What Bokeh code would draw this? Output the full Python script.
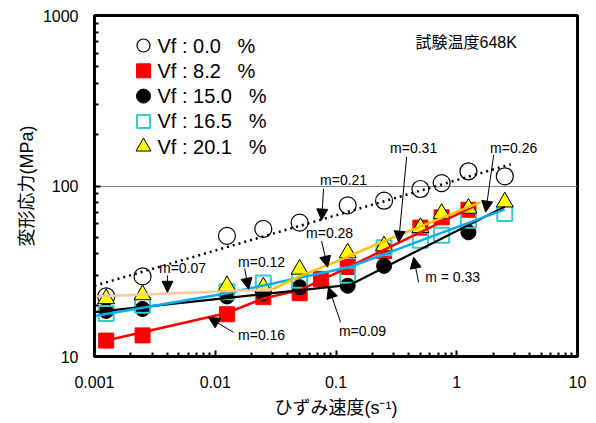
from bokeh.plotting import figure
from bokeh.models import (Arrow, NormalHead, Label, CustomJSTickFormatter, FixedTicker,
                          Range1d, LinearScale)
from bokeh.core.properties import value
from bokeh.embed import file_html
from bokeh.resources import INLINE

FONT = "'Liberation Sans', 'Noto Sans CJK JP', sans-serif"

# ---- measured data (strain rate s^-1, flow stress MPa) ----
rate_vf00 = [0.00125, 0.0025, 0.0125, 0.025, 0.05, 0.125, 0.25, 0.5, 0.75, 1.25, 2.5]
stress_vf00 = [22.5, 29.5, 51, 56, 61, 77, 82, 96, 104, 122, 114]

rate_vf82 = [0.00125, 0.0025, 0.0125, 0.025, 0.05, 0.075, 0.125, 0.25, 0.5, 0.75, 1.25]
stress_vf82 = [12.4, 13.3, 17.7, 22.3, 23.5, 28.5, 33.5, 41.5, 57, 65.5, 72.5]

rate_vf150 = [0.00125, 0.0025, 0.0125, 0.025, 0.05, 0.125, 0.25, 1.25]
stress_vf150 = [18.5, 19.0, 22.5, 23.5, 25.5, 26.0, 34.0, 53.5]

rate_vf165 = [0.00125, 0.0025, 0.0125, 0.025, 0.05, 0.125, 0.25, 0.5, 0.75, 1.25, 2.5]
stress_vf165 = [17.9, 20.0, 24.0, 27.0, 28.0, 30.0, 43.5, 48.0, 51.5, 63.0, 69.0]

rate_vf201 = [0.00125, 0.0025, 0.0125, 0.025, 0.05, 0.125, 0.25, 0.5, 0.75, 1.25, 2.5]
stress_vf201 = [21.8, 23.0, 26.0, 25.5, 32.5, 40.5, 44.5, 57.0, 69.0, 74.0, 80.5]

# ---- fitted guide lines (as drawn in the figure) ----
fit_vf00_x = [0.001, 2.8]
fit_vf00_y = [26.0, 134.0]
fit_vf82_x = [0.00125, 0.0125, 0.025, 0.05, 0.1, 1.38]
fit_vf82_y = [12.4, 18.0, 21.9, 24.5, 30.8, 76.0]
fit_vf150_x = [0.001, 0.13, 2.5]
fit_vf150_y = [18.2, 26.3, 75.5]
fit_vf165_x = [0.001, 0.0125, 0.05, 0.13, 2.5]
fit_vf165_y = [17.3, 23.5, 29.0, 33.5, 73.0]
fit_vf201a_x = [0.001, 0.03]
fit_vf201a_y = [22.5, 24.8]
fit_vf201b_x = [0.03, 0.05, 0.1, 0.25, 1.58]
fit_vf201b_y = [24.8, 29.5, 36.0, 47.5, 80.5]

# ---- slope annotations: text, text position, arrow start, arrow tip ----
ann_text = ["m=0.21", "m=0.07", "m=0.12", "m=0.16", "m=0.28", "m=0.09", "m=0.31", "m = 0.33", "m=0.26"]
ann_tx = [0.1156, 0.00536, 0.0242, 0.0242, 0.0885, 0.166, 0.4395, 0.925, 2.96]
ann_ty = [108.4, 32.9, 35.9, 13.3, 52.9, 14.2, 167.3, 29.2, 167.3]
arr_x0 = [0.0789, 0.00402, 0.0175, 0.01418, 0.0760, 0.1092, 0.3845, 0.4832, 2.023]
arr_y0 = [96.0, 29.9, 32.9, 13.84, 47.5, 15.85, 148.1, 27.2, 152.3]
arr_x1 = [0.0760, 0.00402, 0.0189, 0.00880, 0.0852, 0.0868, 0.330, 0.4395, 1.735]
arr_y1 = [63.1, 23.8, 24.8, 16.96, 33.4, 25.5, 46.85, 38.2, 70.3]

# ---- ticks ----
x_ticks = [0.001, 0.01, 0.1, 1, 10]
x_tick_labels = ["0.001", "0.01", "0.1", "1", "10"]
y_ticks = [10, 100, 1000]
y_tick_labels = ["10", "100", "1000"]
minor_mult = [2, 3, 4, 5, 6, 7, 8, 9]

legend_labels = ["Vf : 0.0\u00a0\u00a0\u00a0%", "Vf : 8.2\u00a0\u00a0\u00a0%", "Vf : 15.0\u00a0\u00a0\u00a0%",
                 "Vf : 16.5\u00a0\u00a0\u00a0%", "Vf : 20.1\u00a0\u00a0\u00a0%"]

FW, FH = 483, 341
p = figure(width=588, height=420, x_axis_type="log", y_axis_type="log",
           x_range=(0.001, 10), y_range=(10, 1000),
           output_backend="svg", toolbar_location=None,
           min_border_left=94, min_border_right=11, min_border_top=15, min_border_bottom=64,
           background_fill_color="white", border_fill_color="white")

# pixel-like helper coordinate system for the legend block
p.extra_x_ranges = {"px": Range1d(0, FW)}
p.extra_x_scales = {"px": LinearScale()}
p.extra_y_ranges = {"px": Range1d(FH, 0)}
p.extra_y_scales = {"px": LinearScale()}

p.outline_line_color = "black"
p.outline_line_width = 3
p.xgrid.grid_line_color = None
p.ygrid.grid_line_color = "#808080"
p.ygrid.grid_line_width = 1

p.xaxis.ticker = FixedTicker(ticks=x_ticks,
                             minor_ticks=[m * t for t in x_ticks[:-1] for m in minor_mult])
p.yaxis.ticker = FixedTicker(ticks=y_ticks,
                             minor_ticks=[m * t for t in y_ticks[:-1] for m in minor_mult])
p.ygrid.ticker = FixedTicker(ticks=y_ticks)
p.xaxis.major_label_overrides = dict(zip(x_ticks, x_tick_labels))
p.yaxis.major_label_overrides = dict(zip(y_ticks, y_tick_labels))

fmt = CustomJSTickFormatter(code="return String(parseFloat(tick.toPrecision(6)));")
for ax in (p.xaxis[0], p.yaxis[0]):
    ax.formatter = fmt
    ax.axis_line_width = 3
    ax.axis_line_color = "black"
    ax.major_tick_in = 6
    ax.major_tick_out = 0
    ax.minor_tick_in = 4
    ax.minor_tick_out = 0
    ax.major_tick_line_width = 2
    ax.minor_tick_line_width = 2
    ax.major_label_text_font = FONT
    ax.major_label_text_font_size = "16px"
    ax.major_label_text_color = "black"
    ax.axis_label_text_font = FONT
    ax.axis_label_text_font_size = "18px"
    ax.axis_label_text_font_style = "normal"
    ax.axis_label_text_color = "black"

p.xaxis.axis_label = "ひずみ速度(s\u207b\u00b9)"
p.yaxis.axis_label = "変形応力(MPa)"
p.xaxis.major_label_standoff = 19
p.yaxis.major_label_standoff = 16
p.xaxis.axis_label_standoff = 7
p.yaxis.axis_label_standoff = 3

# markers
p.scatter(rate_vf00, stress_vf00, marker="circle", size=17, fill_color=None,
          line_color="black", line_width=1.2)
p.scatter(rate_vf82, stress_vf82, marker="square", size=15, fill_color="#FF0000",
          line_color="#FF0000", line_width=1)
p.scatter(rate_vf150, stress_vf150, marker="circle", size=15, fill_color="black",
          line_color="black", line_width=1)
p.scatter(rate_vf165, stress_vf165, marker="square", size=15, fill_color=None,
          line_color="#33CCCC", line_width=2)
p.scatter(rate_vf201, stress_vf201, marker="triangle", size=17, fill_color="#FFFF00",
          line_color="black", line_width=1)

# guide lines
p.line(fit_vf00_x, fit_vf00_y, line_color="black", line_width=2.5, line_dash="2 4")
p.line(fit_vf82_x, fit_vf82_y, line_color="#FF0000", line_width=2.5)
p.line(fit_vf150_x, fit_vf150_y, line_color="black", line_width=2.2)
p.line(fit_vf165_x, fit_vf165_y, line_color="#00B0F0", line_width=2.5)
p.line(fit_vf201a_x, fit_vf201a_y, line_color="#F8C9A0", line_width=2.5)
p.line(fit_vf201b_x, fit_vf201b_y, line_color="#FFC000", line_width=2.5)

for t, tx, ty, x0, y0, x1, y1 in zip(ann_text, ann_tx, ann_ty, arr_x0, arr_y0, arr_x1, arr_y1):
    p.add_layout(Arrow(end=NormalHead(size=11, fill_color="black", line_color="black"),
                       x_start=x0, y_start=y0, x_end=x1, y_end=y1,
                       line_color="black", line_width=1))
    p.add_layout(Label(x=tx, y=ty, text=t, text_align="center", text_baseline="middle",
                       text_font=FONT, text_font_size="14px", text_color="black"))

p.add_layout(Label(x=0.456, y=693.6, text="試験温度648K", text_align="left", text_baseline="middle",
                   text_font=FONT, text_font_size="16px", text_color="black"))

# legend block (frame pixel coordinates from top-left)
leg_x, leg_y0, leg_dy, leg_tx = 49, 30, 25.3, 63
leg_styles = [
    dict(marker="circle", size=13, fill_color=None, line_color="black", line_width=1.2),
    dict(marker="square", size=14, fill_color="#FF0000", line_color="#FF0000", line_width=1),
    dict(marker="circle", size=14, fill_color="black", line_color="black", line_width=1),
    dict(marker="square", size=13, fill_color=None, line_color="#33CCCC", line_width=2),
    dict(marker="triangle", size=15, fill_color="#FFFF00", line_color="black", line_width=1),
]
for i, (lab, st) in enumerate(zip(legend_labels, leg_styles)):
    yy = leg_y0 + i * leg_dy
    p.scatter([leg_x], [yy], x_range_name="px", y_range_name="px", **st)
    p.text([leg_tx], [yy], text=[lab], x_range_name="px", y_range_name="px",
           text_font=value(FONT), text_font_size="20px", text_color="black",
           text_baseline="middle", text_align="left")

open("out.html", "w").write(file_html(p, INLINE))
